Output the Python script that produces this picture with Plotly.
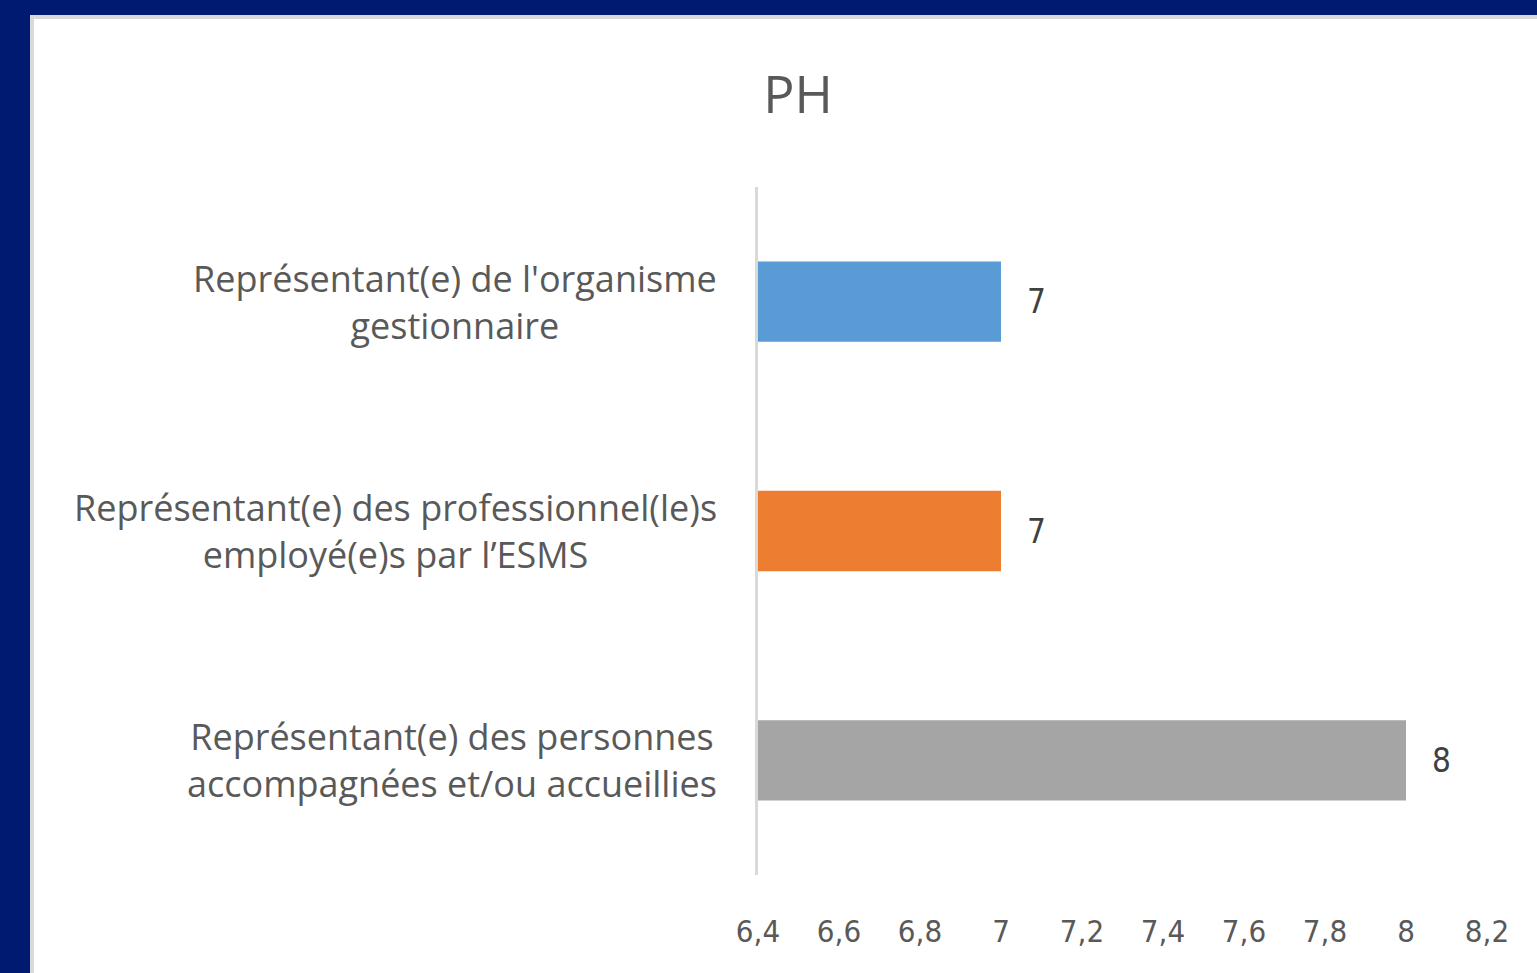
import plotly.graph_objects as go

W, H = 1537, 973

# Data
categories = [
    "Représentant(e) des personnes<br>accompagnées et/ou accueillies",
    "Représentant(e) des professionnel(le)s<br>employé(e)s par l’ESMS",
    "Représentant(e) de l'organisme<br>gestionnaire",
]
values = [8, 7, 7]
bar_colors = ["#a5a5a5", "#ed7d31", "#5b9bd5"]
tick_vals = [6.4, 6.6, 6.8, 7.0, 7.2, 7.4, 7.6, 7.8, 8.0, 8.2]
tick_text = ["6,4", "6,6", "6,8", "7", "7,2", "7,4", "7,6", "7,8", "8", "8,2"]

text_color = "#595959"
font_main = "Open Sans"
font_num = "Liberation Sans Narrow, DejaVu Sans Condensed, sans-serif"


def px_x(p):
    return p / W


def px_y(p):
    return 1 - p / H


fig = go.Figure(
    go.Bar(
        y=categories,
        x=values,
        orientation="h",
        marker=dict(color=bar_colors, line=dict(width=0)),
        width=0.35,
        hoverinfo="skip",
    )
)

# category labels (centered multi-line, like the original)
for cat in categories:
    fig.add_annotation(
        x=px_x(719), xref="paper", xanchor="right",
        y=cat, yref="y", yanchor="middle",
        text=cat, showarrow=False, align="center",
        font=dict(family=font_main, size=36, color=text_color),
    )

# value labels
for cat, v in zip(categories, values):
    fig.add_annotation(
        x=v, xref="x", xanchor="left", xshift=24,
        y=cat, yref="y", yanchor="middle",
        text=str(v), showarrow=False,
        font=dict(family=font_num, size=33, color="#404040"),
    )

# white chart panel over the navy background
fig.add_shape(
    type="rect", xref="paper", yref="paper",
    x0=px_x(32), x1=px_x(W + 10), y0=px_y(H + 10), y1=px_y(17),
    fillcolor="white", line=dict(color="#d9d9d9", width=4), layer="below",
)

fig.update_layout(
    width=W, height=H,
    margin=dict(l=0, r=0, t=0, b=0),
    paper_bgcolor="#001a72",
    plot_bgcolor="white",
    showlegend=False,
    title=dict(
        text="PH", x=px_x(798), xanchor="center", y=px_y(95), yanchor="middle",
        font=dict(family=font_main, size=52, color=text_color),
    ),
    xaxis=dict(
        domain=[px_x(758), px_x(1487)],
        range=[6.4, 8.2],
        tickvals=tick_vals, ticktext=tick_text,
        showgrid=False, zeroline=False, showline=False,
        ticks="", ticklabelstandoff=35, automargin=False,
        tickfont=dict(family=font_num, size=31, color=text_color),
    ),
    yaxis=dict(
        domain=[px_y(875), px_y(187)],
        showticklabels=False, showgrid=False, zeroline=False,
        showline=True, linecolor="#d9d9d9", linewidth=3,
        ticks="", automargin=False,
    ),
)

fig.write_html(
    "out.html",
    config={"displayModeBar": False},
    post_script="document.body.style.margin = '0';",
)
